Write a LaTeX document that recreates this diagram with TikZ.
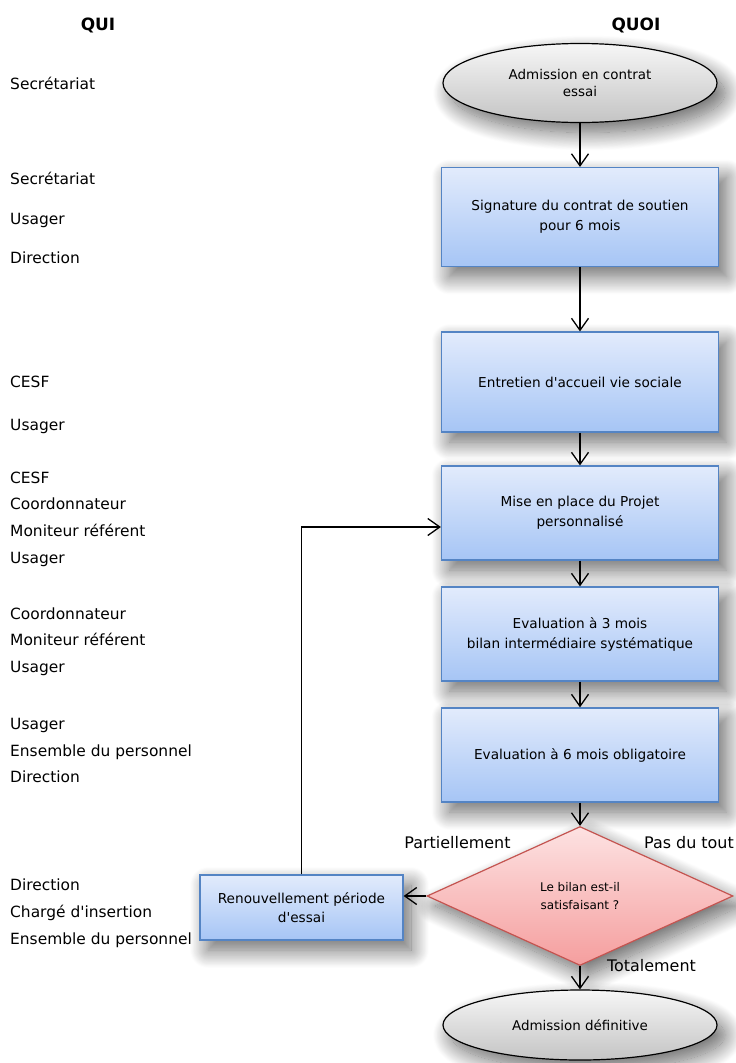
\documentclass[tikz,border=0pt]{standalone}
\usepackage{fontspec}
\setmainfont{DejaVu Sans}
\newfontfamily\plainquote{DejaVu Sans}
\newcommand{\apos}{{\plainquote'}}
\usetikzlibrary{shapes.geometric,arrows.meta,shadows.blur,calc}
\definecolor{boxtop}{RGB}{226,235,252}
\definecolor{boxbot}{RGB}{166,197,245}
\definecolor{boxline}{RGB}{84,132,196}
\definecolor{diatop}{RGB}{253,226,226}
\definecolor{diabot}{RGB}{245,158,158}
\definecolor{dialine}{RGB}{196,84,80}
\definecolor{elltop}{RGB}{246,246,246}
\definecolor{ellbot}{RGB}{196,196,196}
\begin{document}
\begin{tikzpicture}[x=1bp,y=-1bp,
  softshadow/.style={blur shadow={shadow xshift=8bp,shadow yshift=-10bp,shadow blur radius=18bp,shadow blur steps=24,shadow opacity=60}},
  proc/.style={rectangle, draw=boxline, line width=1.2bp, top color=boxtop, bottom color=boxbot,
    minimum width=277bp, inner sep=0pt, align=center, font=\fontsize{13.7}{20}\selectfont, softshadow},
  term/.style={ellipse, draw=black, line width=1.2bp, top color=elltop, bottom color=ellbot,
    minimum width=274bp, inner sep=0pt, align=center, font=\fontsize{13.5}{18}\selectfont, softshadow},
  decision/.style={diamond, draw=dialine, line width=1.2bp, top color=diatop, bottom color=diabot,
    minimum width=306bp, minimum height=139bp, inner sep=0pt, align=center, font=\fontsize{12}{18}\selectfont, softshadow},
  who/.style={anchor=west, align=left, inner sep=0pt},
  head/.style={font=\fontsize{17}{18}\selectfont\bfseries, inner sep=0pt},
  answer/.style={font=\fontsize{16}{18}\selectfont, inner sep=0pt},
  flow/.style={draw=black, line width=1.3bp, -{Straight Barb[length=12bp,width=17bp,line width=1.3bp]}}]
\useasboundingbox (0,0) rectangle (736,1063);

% headers
\node[head] (qui) at (98,25) {QUI};
\node[head] (quoi) at (636,25) {QUOI};

% QUI column
\node[who, font=\fontsize{15.5}{18}\selectfont] (w1) at (10,83) {Secrétariat};
\node[who, font=\fontsize{15.5}{40}\selectfont] (w2) at (10,218) {Secrétariat\\Usager\\Direction};
\node[who, font=\fontsize{15.5}{43}\selectfont] (w3) at (10,404.5) {CESF\\Usager};
\node[who, font=\fontsize{15.5}{26.7}\selectfont] (w4) at (10,519) {CESF\\Coordonnateur\\Moniteur référent\\Usager};
\node[who, font=\fontsize{15.5}{26.5}\selectfont] (w5) at (10,641.5) {Coordonnateur\\Moniteur référent\\Usager};
\node[who, font=\fontsize{15.5}{26.5}\selectfont] (w6) at (10,750.5) {Usager\\Ensemble du personnel\\Direction};
\node[who, font=\fontsize{15.5}{27}\selectfont] (w7) at (10,913) {Direction\\Chargé d\apos insertion\\Ensemble du personnel};

% QUOI column
\node[term, minimum height=79bp] (e1) at (580,83) {Admission en contrat\\essai};
\node[proc, minimum height=99bp] (b2) at (580,217) {Signature du contrat de soutien\\pour 6 mois};
\node[proc, minimum height=100bp] (b3) at (580,382) {Entretien d\apos accueil vie sociale};
\node[proc, minimum height=94bp] (b4) at (580,513) {Mise en place du Projet\\personnalisé};
\node[proc, minimum height=94bp] (b5) at (580,634) {Evaluation à 3 mois\\bilan intermédiaire systématique};
\node[proc, minimum height=94bp] (b6) at (580,755) {Evaluation à 6 mois obligatoire};
\node[decision] (dia) at (580,896) {Le bilan est-il\\satisfaisant ?};
\node[term, minimum height=70bp] (e2) at (580,1025) {Admission définitive};
\node[proc, minimum width=203bp, minimum height=65bp, font=\fontsize{13.7}{19}\selectfont] (ren) at (301.5,907.5) {Renouvellement période\\d\apos essai};

% answer labels
\node[answer] (lp) at (457.5,843) {Partiellement};
\node[answer] (lt) at (689,843) {Pas du tout};
\node[answer] (lo) at (651.5,966) {Totalement};

% connectors
\draw[flow] (e1) -- (b2);
\draw[flow] (b2) -- (b3);
\draw[flow] (b3) -- (b4);
\draw[flow] (b4) -- (b5);
\draw[flow] (b5) -- (b6);
\draw[flow] (b6) -- (dia);
\draw[flow] (dia) -- (e2);
\draw[flow] (dia.west) -- (dia.west -| ren.east);
\draw[flow] (ren.north) |- ([yshift=-14bp]b4.west);
\end{tikzpicture}
\end{document}
